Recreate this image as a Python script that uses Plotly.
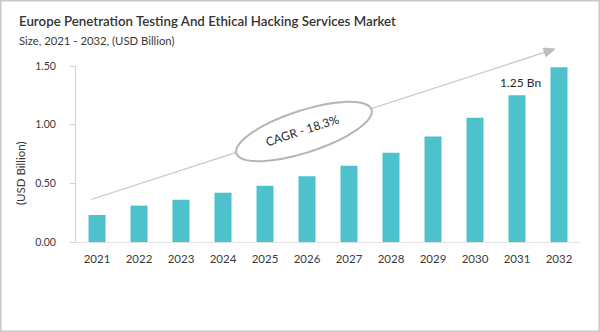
import numpy as np
import plotly.graph_objects as go

# Market size by year (USD Billion)
years = ["2021", "2022", "2023", "2024", "2025", "2026",
         "2027", "2028", "2029", "2030", "2031", "2032"]
market_size = [0.23, 0.31, 0.36, 0.42, 0.48, 0.56,
               0.65, 0.76, 0.90, 1.06, 1.25, 1.49]
labelled_year = "2031"
cagr_text = "CAGR - 18.3%"

TITLE = "Europe Penetration Testing And Ethical Hacking Services Market"
SUBTITLE = "Size, 2021 - 2032, (USD Billion)"
Y_TITLE = "(USD Billion)"

# Canvas and plot-area geometry (pixels)
FIG_W, FIG_H = 600, 332
M_L, M_R, M_T, M_B = 76, 20, 66, 90
PW = FIG_W - M_L - M_R
PH = FIG_H - M_T - M_B


def px(x):
    """Pixel x -> paper x."""
    return (x - M_L) / PW


def py(y):
    """Pixel y (from top) -> paper y."""
    return (FIG_H - M_B - y) / PH


BAR_COLOR = "#4DC1CC"
AXIS_GRAY = "#D0D0D0"
TEXT_DARK = "#3A3A3A"
FONT = "Lato, 'Open Sans', sans-serif"

fig = go.Figure()
fig.add_trace(go.Bar(
    x=years, y=market_size,
    marker=dict(color=BAR_COLOR, line=dict(width=0)),
    hoverinfo="skip",
))

# Trend arrow (line + head), drawn behind the CAGR ellipse
x0a, y0a = 91, 199.5
x1a, y1a = 555, 49
ang = np.arctan2(y1a - y0a, x1a - x0a)
head_len, head_half = 11, 4.5
bx, by = x1a - head_len * np.cos(ang), y1a - head_len * np.sin(ang)
nx, ny = -np.sin(ang), np.cos(ang)
shapes = [
    dict(type="line", xref="paper", yref="paper",
         x0=px(x0a), y0=py(y0a), x1=px(bx), y1=py(by),
         line=dict(color="#C8C8C8", width=1.3), layer="above"),
]
tri = [(x1a, y1a), (bx + nx * head_half, by + ny * head_half),
       (bx - nx * head_half, by - ny * head_half)]
tri_path = "M " + " L ".join(f"{px(a):.5f},{py(b):.5f}" for a, b in tri) + " Z"
shapes.append(dict(type="path", xref="paper", yref="paper", path=tri_path,
                   fillcolor="#BDBDBD", line=dict(color="#BDBDBD", width=1),
                   layer="above"))

# Tilted ellipse around the CAGR label
cx, cy, ea, eb = 304, 131.5, 71, 21
tilt = np.deg2rad(-18)
t = np.linspace(0, 2 * np.pi, 121)
ex = cx + ea * np.cos(t) * np.cos(tilt) - eb * np.sin(t) * np.sin(tilt)
ey = cy + ea * np.cos(t) * np.sin(tilt) + eb * np.sin(t) * np.cos(tilt)
ell_path = "M " + " L ".join(f"{px(a):.5f},{py(b):.5f}" for a, b in zip(ex, ey)) + " Z"
shapes.append(dict(type="path", xref="paper", yref="paper", path=ell_path,
                   fillcolor="white", line=dict(color="#B4B4B4", width=2),
                   layer="above"))

# Outer frame
shapes.append(dict(type="rect", xref="paper", yref="paper",
                   x0=px(0.75), x1=px(FIG_W - 0.75),
                   y0=py(FIG_H - 0.75), y1=py(0.75),
                   line=dict(color="#C8C8C8", width=1.5), fillcolor="rgba(0,0,0,0)",
                   layer="above"))

idx = years.index(labelled_year)
annotations = [
    dict(text=TITLE, xref="paper", yref="paper", x=px(17), y=py(21),
         xanchor="left", yanchor="middle", showarrow=False,
         font=dict(family=FONT, size=13.3, color="#333333", weight=600)),
    dict(text=SUBTITLE, xref="paper", yref="paper", x=px(17), y=py(41),
         xanchor="left", yanchor="middle", showarrow=False,
         font=dict(family=FONT, size=11.3, color=TEXT_DARK)),
    dict(text=Y_TITLE, xref="paper", yref="paper", x=px(20), y=py(173),
         xanchor="center", yanchor="middle", textangle=-90, showarrow=False,
         font=dict(family=FONT, size=11.5, color=TEXT_DARK)),
    dict(text=cagr_text, xref="paper", yref="paper", x=px(302), y=py(130),
         xanchor="center", yanchor="middle", textangle=-18, showarrow=False,
         font=dict(family=FONT, size=12, color="#2A2A2A")),
    dict(text=f"{market_size[idx]:.2f} Bn", x=idx, y=market_size[idx],
         xref="x", yref="y", xanchor="center", yanchor="bottom",
         xshift=3, yshift=3, showarrow=False,
         font=dict(family=FONT, size=12, color="#2A2A2A")),
]

fig.update_layout(
    width=FIG_W, height=FIG_H,
    margin=dict(l=M_L, r=M_R, t=M_T, b=M_B, autoexpand=False),
    paper_bgcolor="white", plot_bgcolor="white",
    bargap=0.595,
    showlegend=False,
    shapes=shapes,
    annotations=annotations,
    font=dict(family=FONT, color=TEXT_DARK),
)
fig.update_xaxes(
    type="category", range=[-0.5, len(years) - 0.5],
    showgrid=False, zeroline=False,
    showline=True, linecolor="#E2E2E2", linewidth=1,
    ticks="", ticklabelstandoff=6,
    tickfont=dict(family=FONT, size=11.5, color=TEXT_DARK),
)
fig.update_yaxes(
    range=[0, 1.5], tickvals=[0, 0.5, 1.0, 1.5], tickformat=".2f",
    showgrid=False, zeroline=False,
    showline=True, linecolor=AXIS_GRAY, linewidth=1,
    ticks="outside", ticklen=5, tickcolor=AXIS_GRAY, ticklabelstandoff=12,
    tickfont=dict(family=FONT, size=10.5, color=TEXT_DARK),
)

fig.write_html("out.html")
